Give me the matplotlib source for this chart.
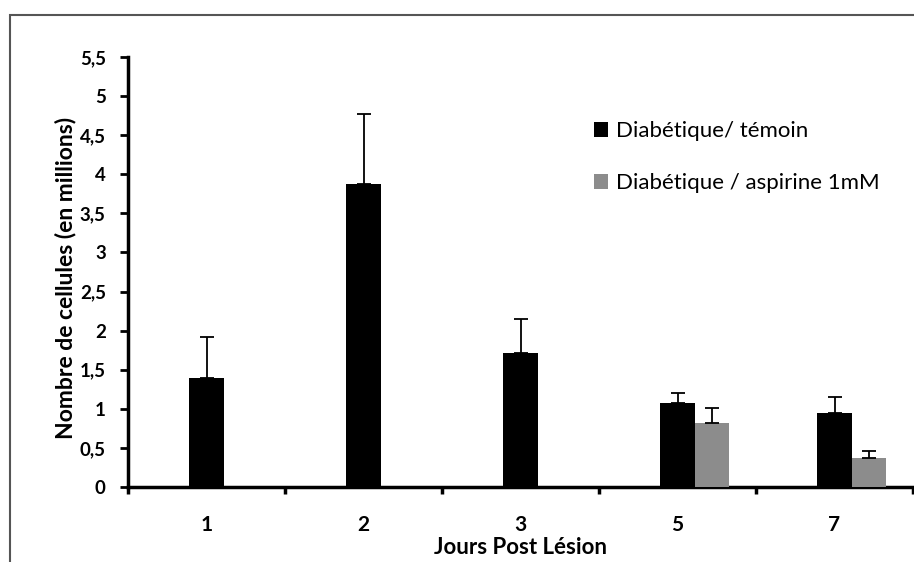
import matplotlib
matplotlib.use("Agg")
import matplotlib.pyplot as plt
import numpy as np
from matplotlib.patches import Rectangle

categories = ["1", "2", "3", "5", "7"]
temoin = [1.39, 3.88, 1.71, 1.07, 0.95]
temoin_err = [0.53, 0.89, 0.44, 0.13, 0.20]
aspirine = [np.nan, np.nan, np.nan, 0.82, 0.37]
aspirine_err = [np.nan, np.nan, np.nan, 0.19, 0.09]
yticks = [0, 0.5, 1, 1.5, 2, 2.5, 3, 3.5, 4, 4.5, 5, 5.5]
ytick_labels = ["0", "0,5", "1", "1,5", "2", "2,5", "3", "3,5", "4", "4,5", "5", "5,5"]

plt.rcParams['font.family'] = ['Lato', 'DejaVu Sans']

W, H = 914, 562
fig = plt.figure(figsize=(W / 100, H / 100), dpi=100)
fig.patch.set_facecolor("white")

# outer scanned frame
fig.patches.append(Rectangle((10 / W, -0.05), 1.2, (H - 15) / H + 0.05,
                             transform=fig.transFigure, fill=False,
                             edgecolor="#555555", linewidth=1.5))

ax = fig.add_axes([128 / W, (H - 487) / H, 785 / W, 430 / H])
x = np.arange(len(categories))
w = 0.22
err_kw = dict(ecolor="black", elinewidth=1.3, capsize=5.2, capthick=1.3)
ax.bar(x, temoin, width=w, color="black", label="Diabétique/ témoin",
       yerr=[np.zeros(len(x)), temoin_err], error_kw=err_kw, zorder=3)
ax.bar(x + w, aspirine, width=w, color="#8c8c8c", label="Diabétique / aspirine 1mM",
       yerr=[np.zeros(len(x)), aspirine_err], error_kw=err_kw, zorder=3)

ax.set_xlim(-0.5, 4.5)
ax.set_ylim(0, 5.5)
ax.set_yticks(yticks)
ax.set_yticklabels(ytick_labels, fontsize=13.5, fontweight="bold")
ax.set_xticks(x)
ax.set_xticklabels(categories, fontsize=15, fontweight="bold")
ax.set_xticks(np.arange(-0.5, 5.0, 1.0), minor=True)
ax.tick_params(axis="x", which="major", length=0, pad=20)
ax.tick_params(axis="x", which="minor", length=5, width=2.5, direction="out")
ax.tick_params(axis="y", length=6, width=2, pad=10)

for s in ["top", "right"]:
    ax.spines[s].set_visible(False)
ax.spines["left"].set_linewidth(2.5)
ax.spines["bottom"].set_linewidth(2.5)

ax.set_xlabel("Jours Post Lésion", fontsize=16, fontweight="bold")
ax.xaxis.label.set_va("center")
ax.xaxis.set_label_coords(0.5, -(548 - 487) / 430)
ax.set_ylabel("Nombre de cellules (en millions)", fontsize=16.5, fontweight="bold")
ax.yaxis.label.set_va("center")
ax.yaxis.set_label_coords((66 - 128) / 785, (487 - 278) / 430)

leg = ax.legend(loc="upper left", bbox_to_anchor=((585 - 128) / 785, (487 - 112) / 430),
                frameon=False, fontsize=16, labelspacing=1.45,
                handlelength=0.65, handleheight=0.65, handletextpad=0.36,
                borderaxespad=0)

fig.savefig("out.png", dpi=100)
